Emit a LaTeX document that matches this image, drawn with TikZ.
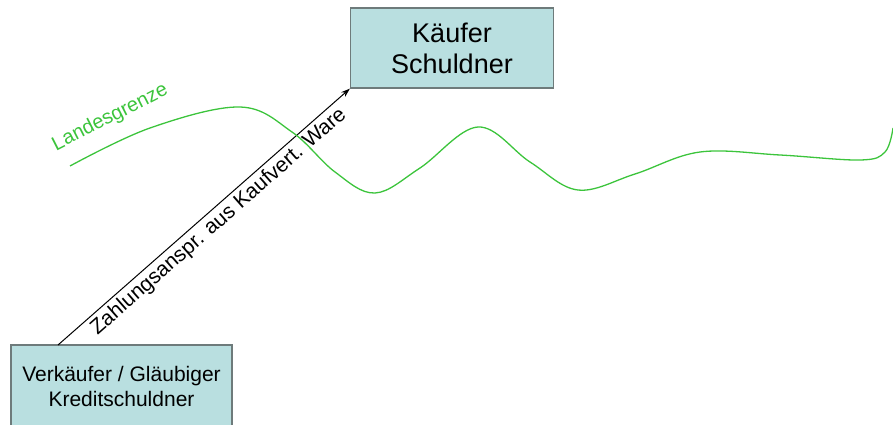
\documentclass[tikz,border=0pt]{standalone}
\usepackage{fontspec}
\setmainfont{Liberation Sans}
\usetikzlibrary{arrows.meta}
\definecolor{boxfill}{HTML}{B9DFE0}
\definecolor{boxline}{HTML}{6E7B7B}
\definecolor{border}{HTML}{3CC43C}
\begin{document}
\begin{tikzpicture}[x=1pt,y=-1pt,
  party/.style={draw=boxline,line width=1.2pt,fill=boxfill,inner sep=0pt,align=center},
  claim/.style={-{Stealth[length=9pt,width=6pt]},line width=1pt,black},
  wave/.style={draw=border,line width=1.3pt}]
\useasboundingbox (0,0) rectangle (893,425);
\node[party,minimum width=203pt,minimum height=80pt,font=\fontsize{27}{31}\selectfont] (k) at (452,48) {Käufer\\Schuldner};
\node[party,minimum width=221pt,minimum height=82pt,font=\fontsize{21}{25}\selectfont] (v) at (121.5,386) {Verkäufer / Gläubiger\\Kreditschuldner};
\coordinate (vs) at (58,345);
\draw[claim] (vs) -- (k.south west) node[pos=0.52,sloped,below=0pt,font=\fontsize{21}{25}\selectfont] (lab) {Zahlungsanspr. aus Kaufvert. Ware};
\draw[wave] plot[smooth,tension=0.6] coordinates {(70,166) (150,128) (240,107) (292,132) (335,172) (375,193) (420,168) (478,127) (530,162) (578,190) (635,174) (700,152) (780,155) (860,160) (885,152) (893,128)};
\node[text=border,rotate=27,font=\fontsize{20}{24}\selectfont,anchor=south west,inner sep=0pt] (lg) at (58,155) {Landesgrenze};
\end{tikzpicture}
\end{document}
